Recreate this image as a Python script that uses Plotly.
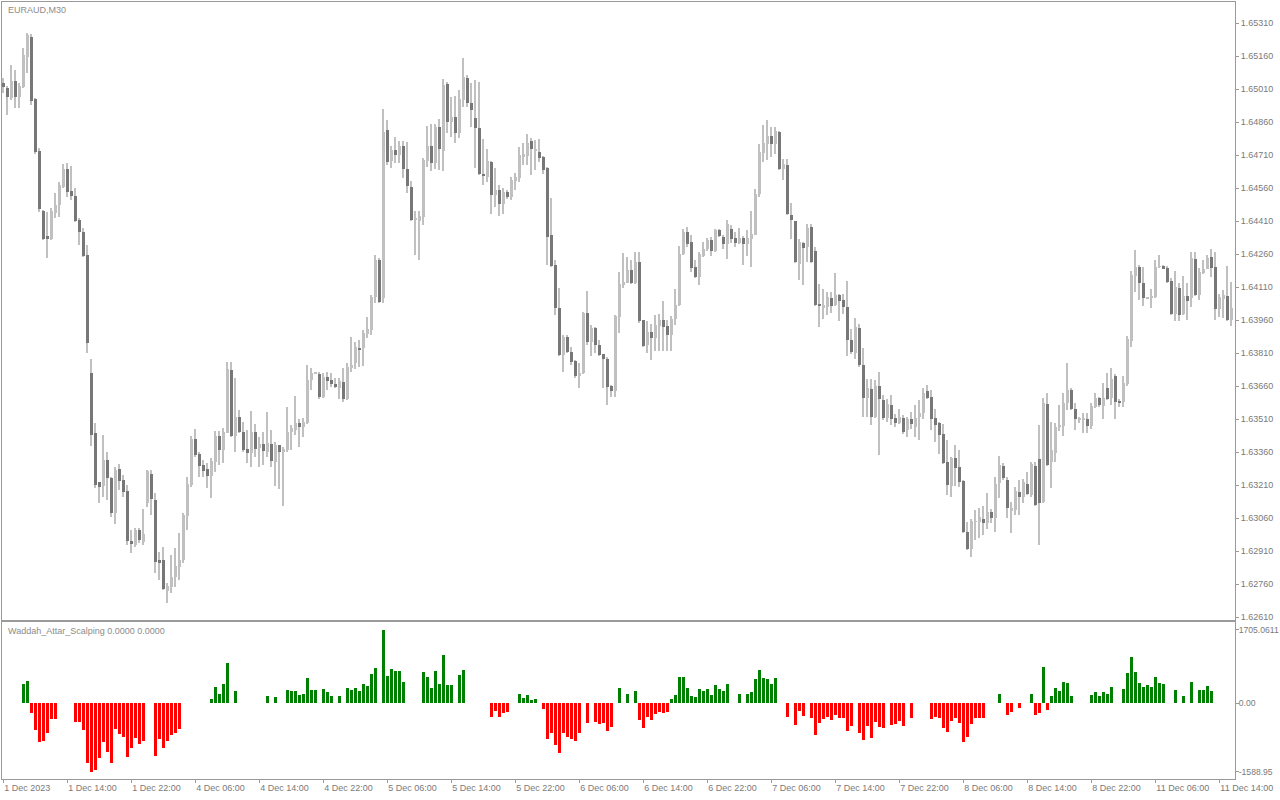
import plotly.graph_objects as go

# ---------------- data (EURAUD, M30) ----------------
bar_open = [
    1.65037, 1.65015, 1.64969, 1.65046, 1.64974, 1.65019, 1.65155, 1.65246, 1.64965, 1.64728,  # 0
    1.64455, 1.64342, 1.64328, 1.64446, 1.64483, 1.64565, 1.64646, 1.64546, 1.64524, 1.64415,  # 10
    1.64360, 1.64255, 1.63719, 1.63446, 1.63224, 1.63205, 1.63324, 1.63242, 1.63083, 1.63283,  # 20
    1.63233, 1.63183, 1.62955, 1.62937, 1.63005, 1.62951, 1.63128, 1.63260, 1.63142, 1.62869,  # 30
    1.62869, 1.62728, 1.62746, 1.62792, 1.62837, 1.62869, 1.63069, 1.63210, 1.63419, 1.63351,  # 40
    1.63301, 1.63283, 1.63251, 1.63315, 1.63433, 1.63369, 1.63446, 1.63733, 1.63433, 1.63519,  # 50
    1.63451, 1.63374, 1.63355, 1.63451, 1.63378, 1.63396, 1.63360, 1.63396, 1.63315, 1.63392,  # 60
    1.63360, 1.63369, 1.63451, 1.63460, 1.63492, 1.63474, 1.63492, 1.63687, 1.63719, 1.63715,  # 70
    1.63610, 1.63701, 1.63687, 1.63669, 1.63651, 1.63678, 1.63601, 1.63742, 1.63765, 1.63833,  # 80
    1.63833, 1.63896, 1.63915, 1.64065, 1.64233, 1.64060, 1.64824, 1.64683, 1.64733, 1.64710,  # 90
    1.64751, 1.64646, 1.64565, 1.64415, 1.64410, 1.64428, 1.64683, 1.64751, 1.64674, 1.64837,  # 100
    1.64728, 1.65033, 1.64860, 1.64883, 1.64810, 1.64960, 1.65060, 1.64946, 1.64878, 1.64833,  # 110
    1.64624, 1.64610, 1.64678, 1.64528, 1.64551, 1.64487, 1.64542, 1.64519, 1.64592, 1.64605,  # 120
    1.64701, 1.64705, 1.64774, 1.64731, 1.64724, 1.64701, 1.64651, 1.64346, 1.64210, 1.64015,  # 130
    1.63801, 1.63883, 1.63815, 1.63774, 1.63705, 1.63719, 1.63992, 1.63860, 1.63924, 1.63846,  # 140
    1.63805, 1.63783, 1.63660, 1.63637, 1.63974, 1.64119, 1.64128, 1.64187, 1.64128, 1.64224,  # 150
    1.63960, 1.63846, 1.63905, 1.63878, 1.63933, 1.63960, 1.63933, 1.63892, 1.63965, 1.64028,  # 160
    1.64260, 1.64360, 1.64315, 1.64201, 1.64155, 1.64251, 1.64283, 1.64324, 1.64274, 1.64369,  # 170
    1.64337, 1.64305, 1.64374, 1.64333, 1.64310, 1.64333, 1.64305, 1.64328, 1.64346, 1.64533,  # 180
    1.64719, 1.64760, 1.64796, 1.64760, 1.64815, 1.64646, 1.64665, 1.64437, 1.64410, 1.64215,  # 190
    1.64310, 1.64292, 1.64383, 1.64274, 1.64028, 1.64019, 1.64019, 1.64060, 1.64028, 1.64074,  # 200
    1.64051, 1.64019, 1.63869, 1.63810, 1.63924, 1.63755, 1.63605, 1.63646, 1.63519, 1.63660,  # 210
    1.63596, 1.63515, 1.63574, 1.63515, 1.63492, 1.63515, 1.63460, 1.63510, 1.63474, 1.63519,  # 220
    1.63537, 1.63637, 1.63610, 1.63515, 1.63492, 1.63442, 1.63315, 1.63205, 1.63333, 1.63292,  # 230
    1.63228, 1.62996, 1.62919, 1.63042, 1.63042, 1.63055, 1.63037, 1.63087, 1.63060, 1.63219,  # 240
    1.63296, 1.63233, 1.63096, 1.63096, 1.63178, 1.63155, 1.63215, 1.63165, 1.63296, 1.63328,  # 250
    1.63133, 1.63578, 1.63315, 1.63355, 1.63474, 1.63478, 1.63583, 1.63642, 1.63555, 1.63510,  # 260
    1.63505, 1.63510, 1.63478, 1.63565, 1.63605, 1.63569, 1.63651, 1.63605, 1.63705, 1.63592,  # 270
    1.63587, 1.63669, 1.63865, 1.64160, 1.64201, 1.64128, 1.64060, 1.64063, 1.64065, 1.64201,  # 280
    1.64205, 1.64196, 1.64137, 1.63987, 1.64105, 1.63987, 1.64069, 1.64060, 1.64237, 1.64074,  # 290
    1.64174, 1.64192, 1.64246, 1.64201, 1.64010, 1.64055, 1.64069, 1.63960,                    # 300
]
bar_high = [
    1.65060, 1.65024, 1.65119, 1.65096, 1.65037, 1.65196, 1.65265, 1.65260, 1.64969, 1.64742,
    1.64460, 1.64451, 1.64469, 1.64537, 1.64587, 1.64669, 1.64674, 1.64660, 1.64560, 1.64424,
    1.64378, 1.64301, 1.63783, 1.63492, 1.63224, 1.63437, 1.63360, 1.63246, 1.63292, 1.63305,
    1.63255, 1.63210, 1.63005, 1.63015, 1.63015, 1.63101, 1.63278, 1.63278, 1.63174, 1.62905,
    1.62928, 1.62765, 1.62892, 1.62924, 1.62992, 1.63083, 1.63246, 1.63433, 1.63465, 1.63360,
    1.63324, 1.63310, 1.63333, 1.63455, 1.63455, 1.63469, 1.63769, 1.63769, 1.63696, 1.63551,
    1.63496, 1.63460, 1.63546, 1.63487, 1.63428, 1.63451, 1.63542, 1.63460, 1.63405, 1.63392,
    1.63383, 1.63565, 1.63483, 1.63615, 1.63510, 1.63515, 1.63755, 1.63742, 1.63724, 1.63724,
    1.63719, 1.63724, 1.63719, 1.63696, 1.63696, 1.63742, 1.63765, 1.63883, 1.63860, 1.63869,
    1.63915, 1.63974, 1.64074, 1.64255, 1.64242, 1.64919, 1.64869, 1.64751, 1.64792, 1.64774,
    1.64774, 1.64769, 1.64592, 1.64455, 1.64455, 1.64696, 1.64842, 1.64851, 1.64851, 1.64874,
    1.65055, 1.65042, 1.64974, 1.64978, 1.65005, 1.65151, 1.65074, 1.65037, 1.65051, 1.65042,
    1.64783, 1.64737, 1.64683, 1.64651, 1.64574, 1.64560, 1.64551, 1.64610, 1.64628, 1.64746,
    1.64765, 1.64805, 1.64787, 1.64778, 1.64783, 1.64705, 1.64655, 1.64515, 1.64233, 1.64105,
    1.63892, 1.63892, 1.63837, 1.63778, 1.63765, 1.63996, 1.64092, 1.63937, 1.63928, 1.63869,
    1.63805, 1.63792, 1.63665, 1.63983, 1.64178, 1.64265, 1.64246, 1.64233, 1.64269, 1.64269,
    1.63960, 1.63955, 1.63942, 1.63983, 1.63987, 1.64046, 1.63960, 1.63978, 1.64101, 1.64296,
    1.64374, 1.64383, 1.64346, 1.64233, 1.64269, 1.64315, 1.64333, 1.64337, 1.64374, 1.64374,
    1.64346, 1.64415, 1.64392, 1.64360, 1.64378, 1.64342, 1.64369, 1.64455, 1.64555, 1.64760,
    1.64846, 1.64869, 1.64837, 1.64837, 1.64819, 1.64692, 1.64692, 1.64492, 1.64410, 1.64328,
    1.64315, 1.64396, 1.64396, 1.64292, 1.64124, 1.64101, 1.64087, 1.64087, 1.64174, 1.64078,
    1.64078, 1.64137, 1.63919, 1.63969, 1.63942, 1.63833, 1.63692, 1.63692, 1.63687, 1.63724,
    1.63619, 1.63601, 1.63619, 1.63533, 1.63555, 1.63528, 1.63519, 1.63542, 1.63574, 1.63596,
    1.63651, 1.63665, 1.63642, 1.63555, 1.63496, 1.63487, 1.63415, 1.63337, 1.63392, 1.63369,
    1.63233, 1.63042, 1.63055, 1.63096, 1.63105, 1.63115, 1.63174, 1.63101, 1.63246, 1.63342,
    1.63310, 1.63246, 1.63133, 1.63201, 1.63233, 1.63237, 1.63269, 1.63315, 1.63315, 1.63483,
    1.63605, 1.63628, 1.63496, 1.63492, 1.63574, 1.63628, 1.63765, 1.63651, 1.63583, 1.63519,
    1.63537, 1.63537, 1.63583, 1.63628, 1.63610, 1.63674, 1.63719, 1.63742, 1.63715, 1.63601,
    1.63705, 1.63887, 1.64183, 1.64278, 1.64210, 1.64201, 1.64065, 1.64101, 1.64233, 1.64255,
    1.64210, 1.64205, 1.64151, 1.64183, 1.64128, 1.64160, 1.64128, 1.64269, 1.64269, 1.64196,
    1.64233, 1.64255, 1.64283, 1.64269, 1.64078, 1.64096, 1.64205, 1.64133,
]
bar_low = [
    1.64992, 1.64892, 1.64960, 1.64924, 1.64924, 1.65015, 1.65083, 1.64937, 1.64715, 1.64451,
    1.64324, 1.64242, 1.64324, 1.64424, 1.64428, 1.64560, 1.64519, 1.64505, 1.64405, 1.64301,
    1.64246, 1.63810, 1.63387, 1.63196, 1.63128, 1.63155, 1.63142, 1.63065, 1.63033, 1.63187,
    1.63155, 1.62937, 1.62901, 1.62928, 1.62946, 1.62937, 1.63110, 1.63074, 1.62810, 1.62778,
    1.62733, 1.62674, 1.62719, 1.62746, 1.62778, 1.62855, 1.63005, 1.63201, 1.63337, 1.63246,
    1.63246, 1.63196, 1.63151, 1.63269, 1.63301, 1.63310, 1.63446, 1.63428, 1.63360, 1.63446,
    1.63360, 1.63310, 1.63292, 1.63337, 1.63292, 1.63301, 1.63337, 1.63292, 1.63205, 1.63192,
    1.63115, 1.63360, 1.63369, 1.63437, 1.63383, 1.63428, 1.63487, 1.63642, 1.63714, 1.63601,
    1.63605, 1.63642, 1.63655, 1.63651, 1.63601, 1.63587, 1.63596, 1.63724, 1.63737, 1.63746,
    1.63751, 1.63878, 1.63892, 1.64037, 1.64037, 1.64037, 1.64665, 1.64651, 1.64674, 1.64674,
    1.64605, 1.64537, 1.64410, 1.64255, 1.64233, 1.64392, 1.64655, 1.64637, 1.64646, 1.64642,
    1.64637, 1.64810, 1.64792, 1.64765, 1.64787, 1.64928, 1.64928, 1.64837, 1.64651, 1.64619,
    1.64574, 1.64587, 1.64442, 1.64474, 1.64433, 1.64442, 1.64510, 1.64505, 1.64551, 1.64587,
    1.64665, 1.64665, 1.64619, 1.64642, 1.64678, 1.64624, 1.64210, 1.64201, 1.63983, 1.63796,
    1.63724, 1.63810, 1.63755, 1.63696, 1.63651, 1.63715, 1.63846, 1.63796, 1.63810, 1.63796,
    1.63651, 1.63574, 1.63610, 1.63610, 1.63901, 1.64105, 1.64128, 1.64124, 1.64124, 1.63946,
    1.63837, 1.63810, 1.63778, 1.63819, 1.63819, 1.63819, 1.63819, 1.63819, 1.63937, 1.64024,
    1.64255, 1.64292, 1.64178, 1.64151, 1.64119, 1.64246, 1.64274, 1.64251, 1.64269, 1.64337,
    1.64283, 1.64237, 1.64310, 1.64292, 1.64305, 1.64210, 1.64251, 1.64201, 1.64346, 1.64519,
    1.64678, 1.64687, 1.64701, 1.64715, 1.64642, 1.64596, 1.64437, 1.64328, 1.64219, 1.64142,
    1.64119, 1.64224, 1.64219, 1.64024, 1.63928, 1.63965, 1.63983, 1.63992, 1.64024, 1.63955,
    1.63987, 1.63796, 1.63805, 1.63783, 1.63746, 1.63519, 1.63519, 1.63483, 1.63515, 1.63346,
    1.63505, 1.63496, 1.63483, 1.63474, 1.63487, 1.63442, 1.63428, 1.63465, 1.63428, 1.63415,
    1.63510, 1.63601, 1.63460, 1.63405, 1.63351, 1.63305, 1.63165, 1.63155, 1.63205, 1.63201,
    1.62992, 1.62915, 1.62882, 1.62960, 1.62969, 1.62983, 1.63010, 1.63037, 1.62996, 1.63151,
    1.63233, 1.63060, 1.62992, 1.63074, 1.63074, 1.63128, 1.63165, 1.63155, 1.63115, 1.62937,
    1.63128, 1.63296, 1.63196, 1.63315, 1.63455, 1.63433, 1.63551, 1.63551, 1.63460, 1.63492,
    1.63446, 1.63446, 1.63465, 1.63560, 1.63565, 1.63510, 1.63596, 1.63574, 1.63510, 1.63565,
    1.63565, 1.63660, 1.63837, 1.64087, 1.64051, 1.64024, 1.64055, 1.64015, 1.64060, 1.64196,
    1.64192, 1.64128, 1.63983, 1.63955, 1.63955, 1.63983, 1.63960, 1.64019, 1.64069, 1.64051,
    1.64169, 1.64190, 1.64155, 1.63960, 1.63974, 1.63969, 1.63955, 1.63933,
]
bar_close = [
    1.65019, 1.64974, 1.65046, 1.64974, 1.65024, 1.65165, 1.65255, 1.64955, 1.64724, 1.64465,
    1.64328, 1.64328, 1.64455, 1.64483, 1.64574, 1.64646, 1.64542, 1.64524, 1.64410, 1.64360,
    1.64251, 1.63855, 1.63437, 1.63210, 1.63201, 1.63324, 1.63242, 1.63083, 1.63278, 1.63228,
    1.63178, 1.62955, 1.62942, 1.63005, 1.62960, 1.62987, 1.63274, 1.63146, 1.62860, 1.62860,
    1.62737, 1.62751, 1.62792, 1.62842, 1.62869, 1.63074, 1.63215, 1.63419, 1.63346, 1.63296,
    1.63274, 1.63251, 1.63319, 1.63433, 1.63369, 1.63451, 1.63737, 1.63433, 1.63519, 1.63451,
    1.63369, 1.63355, 1.63451, 1.63374, 1.63396, 1.63365, 1.63401, 1.63319, 1.63392, 1.63360,
    1.63374, 1.63451, 1.63469, 1.63492, 1.63474, 1.63496, 1.63687, 1.63719, 1.63720, 1.63610,
    1.63701, 1.63683, 1.63669, 1.63655, 1.63683, 1.63601, 1.63746, 1.63755, 1.63837, 1.63828,
    1.63901, 1.63919, 1.64065, 1.64233, 1.64042, 1.64815, 1.64678, 1.64733, 1.64710, 1.64751,
    1.64646, 1.64569, 1.64415, 1.64424, 1.64433, 1.64687, 1.64751, 1.64674, 1.64837, 1.64737,
    1.65028, 1.64860, 1.64883, 1.64810, 1.64965, 1.65065, 1.64946, 1.64915, 1.64833, 1.64624,
    1.64615, 1.64683, 1.64528, 1.64551, 1.64487, 1.64542, 1.64519, 1.64596, 1.64610, 1.64710,
    1.64715, 1.64765, 1.64737, 1.64733, 1.64696, 1.64642, 1.64337, 1.64205, 1.64015, 1.63801,
    1.63883, 1.63815, 1.63769, 1.63705, 1.63719, 1.63992, 1.63860, 1.63924, 1.63846, 1.63801,
    1.63783, 1.63655, 1.63637, 1.63978, 1.64124, 1.64133, 1.64187, 1.64128, 1.64224, 1.63955,
    1.63842, 1.63905, 1.63878, 1.63937, 1.63960, 1.63928, 1.63892, 1.63965, 1.64028, 1.64260,
    1.64360, 1.64305, 1.64196, 1.64155, 1.64260, 1.64283, 1.64324, 1.64274, 1.64369, 1.64342,
    1.64305, 1.64396, 1.64328, 1.64310, 1.64333, 1.64305, 1.64333, 1.64351, 1.64533, 1.64724,
    1.64765, 1.64796, 1.64760, 1.64819, 1.64646, 1.64669, 1.64442, 1.64415, 1.64224, 1.64315,
    1.64287, 1.64378, 1.64224, 1.64028, 1.64026, 1.64028, 1.64065, 1.64024, 1.64074, 1.64046,
    1.64019, 1.63869, 1.63815, 1.63928, 1.63755, 1.63605, 1.63651, 1.63519, 1.63660, 1.63601,
    1.63515, 1.63578, 1.63510, 1.63492, 1.63519, 1.63451, 1.63510, 1.63487, 1.63515, 1.63537,
    1.63628, 1.63605, 1.63510, 1.63483, 1.63437, 1.63310, 1.63210, 1.63333, 1.63287, 1.63224,
    1.62996, 1.62919, 1.63046, 1.63044, 1.63065, 1.63037, 1.63087, 1.63060, 1.63215, 1.63301,
    1.63242, 1.63105, 1.63105, 1.63183, 1.63155, 1.63224, 1.63169, 1.63305, 1.63119, 1.63128,
    1.63583, 1.63301, 1.63369, 1.63474, 1.63483, 1.63583, 1.63642, 1.63555, 1.63510, 1.63512,
    1.63515, 1.63478, 1.63569, 1.63605, 1.63574, 1.63605, 1.63601, 1.63692, 1.63587, 1.63583,
    1.63674, 1.63874, 1.64165, 1.64201, 1.64128, 1.64060, 1.64062, 1.64065, 1.64201, 1.64205,
    1.64196, 1.64133, 1.63987, 1.64110, 1.63983, 1.64069, 1.64046, 1.64242, 1.64074, 1.64178,
    1.64192, 1.64242, 1.64196, 1.64010, 1.64065, 1.64074, 1.63960, 1.64015,
]

# Waddah_Attar_Scalping histogram (0 = no bar drawn)
wa_values = [
    0, 0, 0, 0, 0, 461, 530, -230, -622, -892,
    -868, -684, -361, -361, 0, 0, 0, 0, -430, -430,
    -614, -1383, -1588.95, -1545, -1260, -899, -1122, -1375, -591, -707,
    -776, -1237, -1030, -799, -937, -868, 0, 0, -1214, -822,
    -1030, -868, -730, -684, -591, 0, 0, 0, 0, 0,
    0, 0, 92, 392, 230, 461, 945, 0, 300, 0,
    0, 0, 0, 0, 0, 0, 161, 0, 138, 0,
    0, 323, 284, 300, 207, 230, 599, 323, 307, 0,
    346, 254, 184, 0, 184, 0, 369, 323, 369, 300,
    461, 415, 691, 830, 0, 1705.0611, 645, 807, 745, 760,
    507, 0, 0, 0, 0, 737, 622, 369, 760, 461,
    1129, 438, 438, 0, 668, 784, 0, 0, 0, 0,
    0, 0, -323, -184, -323, -230, -207, 0, 0, 230,
    115, 207, 69, 92, 0, -138, -830, -691, -968, -1152,
    -691, -783, -830, -876, -691, 0, -461, 0, -438, -484,
    -461, -645, -553, 0, 369, 0, 230, 0, 277, -392,
    -576, -323, -392, -254, -207, -230, -207, 92, 207, 622,
    622, 369, 161, 138, 346, 300, 346, 207, 438, 346,
    277, 461, 0, 0, 230, 0, 230, 254, 576, 784,
    599, 576, 461, 599, 0, 0, -323, 0, -507, -184,
    -300, 0, -346, -737, -461, -369, -323, -392, -270, -330,
    -330, -638, -522, 0, -691, -845, -522, -799, -430, -545,
    -568, 0, -499, -476, -407, -522, 0, -338, 0, 0,
    0, 0, -361, -315, -338, -568, -660, -407, -338, -453,
    -891, -776, -476, -338, -338, -338, 0, 0, 0, 230,
    0, -270, -200, 0, -108, 0, 0, 230, -270, -223,
    853, -154, 161, 369, 300, 507, 484, 161, 0, 0,
    0, 0, 207, 254, 184, 254, 230, 392, 0, 0,
    346, 714, 1083, 737, 484, 392, 438, 392, 622, 484,
    461, 0, 0, 323, 0, 184, 0, 507, 0, 323,
    323, 415, 277, 0, 0, 0, 0, 0,
]

time_labels = [
    "1 Dec 2023", "1 Dec 14:00", "1 Dec 22:00", "4 Dec 06:00", "4 Dec 14:00",
    "4 Dec 22:00", "5 Dec 06:00", "5 Dec 14:00", "5 Dec 22:00", "6 Dec 06:00",
    "6 Dec 14:00", "6 Dec 22:00", "7 Dec 06:00", "7 Dec 14:00", "7 Dec 22:00",
    "8 Dec 06:00", "8 Dec 14:00", "8 Dec 22:00", "11 Dec 06:00", "11 Dec 14:00",
]
bars_per_label = 16  # 8 hours of M30 bars

price_ticks = [
    1.62610, 1.62760, 1.62910, 1.63060, 1.63210, 1.63360, 1.63510, 1.63660, 1.63810,
    1.63960, 1.64110, 1.64260, 1.64410, 1.64560, 1.64710, 1.64860, 1.65010, 1.65160, 1.65310,
]
wa_ticks = [1705.0611, 0.0, -1588.95]
wa_tick_text = ["1705.0611", "0.00", "-1588.95"]

symbol_title = "EURAUD,M30"
indicator_title = "Waddah_Attar_Scalping 0.0000 0.0000"

n = len(bar_open)
for arr in (bar_high, bar_low, bar_close, wa_values):
    if len(arr) != n:
        raise SystemExit(f"length mismatch {len(arr)} vs {n}")

# ---------------- styling ----------------
BULL = "#c0c0c0"
BEAR = "#777777"
WICK = "#c0c0c0"
GREEN = "#008000"
RED = "#ff0000"
AXIS = "#9a9a9a"
TXT = "#7a7a7a"
FONT = "Liberation Sans, Arial, sans-serif"

idx = list(range(n))
body_base = [min(o, c) for o, c in zip(bar_open, bar_close)]
body_h = [max(abs(c - o), 0.00004) for o, c in zip(bar_open, bar_close)]
body_col = [BULL if c >= o else BEAR for o, c in zip(bar_open, bar_close)]
wick_h = [h - l for h, l in zip(bar_high, bar_low)]

fig = go.Figure()
fig.add_trace(go.Bar(x=idx, y=wick_h, base=bar_low, width=0.25,
                     marker=dict(color=WICK, line=dict(width=0)),
                     xaxis="x", yaxis="y", hoverinfo="skip"))
fig.add_trace(go.Bar(x=idx, y=body_h, base=body_base, width=0.75,
                     marker=dict(color=body_col, line=dict(width=0)),
                     xaxis="x", yaxis="y", hoverinfo="skip"))
fig.add_trace(go.Bar(x=idx, y=wa_values, width=0.75,
                     marker=dict(color=[GREEN if v >= 0 else RED for v in wa_values],
                                 line=dict(width=0)),
                     xaxis="x2", yaxis="y2", hoverinfo="skip"))

W, H = 1280, 800
ml, mr, mt, mb = 2, 45, 2, 21
plot_w = W - ml - mr
plot_h = H - mt - mb
main_bottom_px = 620
ind_top_px = 622
bottom_px = H - mb

px_per_bar = 4.0
x_left = -0.325
x_range = [x_left, x_left + plot_w / px_per_bar]

common_axis = dict(showgrid=False, zeroline=False, showline=True, linecolor=AXIS,
                   linewidth=1, mirror=True, automargin=False)

fig.update_layout(
    width=W, height=H, template="none",
    margin=dict(l=ml, r=mr, t=mt, b=mb, pad=0),
    paper_bgcolor="white", plot_bgcolor="white",
    showlegend=False, barmode="overlay", bargap=0,
    font=dict(family=FONT, size=9, color=TXT),
    xaxis=dict(domain=[0, 1], anchor="y", range=x_range, showticklabels=False,
               ticks="", **common_axis),
    xaxis2=dict(domain=[0, 1], anchor="y2", range=x_range, matches="x",
                tickmode="array",
                tickvals=[bars_per_label * k for k in range(len(time_labels))],
                ticktext=time_labels, ticks="outside", ticklen=3, tickcolor=AXIS,
                ticklabelposition="outside right",
                tickfont=dict(family=FONT, size=9, color=TXT), **common_axis),
    yaxis=dict(domain=[(bottom_px - main_bottom_px) / plot_h, 1], anchor="x", side="right",
               range=[1.625964, 1.654055], tickmode="array", tickvals=price_ticks,
               ticktext=[f"{v:.5f}" for v in price_ticks], ticks="outside", ticklen=3,
               tickcolor=AXIS, tickfont=dict(family=FONT, size=9, color=TXT), **common_axis),
    yaxis2=dict(domain=[0, (bottom_px - ind_top_px) / plot_h], anchor="x2", side="right",
                range=[-1753, 1889], tickmode="array", tickvals=wa_ticks,
                ticktext=wa_tick_text, ticks="outside", ticklen=3, tickcolor=AXIS,
                ticklabelstandoff=-2,
                tickfont=dict(family=FONT, size=8.6, color=TXT), **common_axis),
)

def paper_xy(px, py):
    return (px - ml) / plot_w, (bottom_px - py) / plot_h

ax, ay = paper_xy(6, 10)
fig.add_annotation(x=ax, y=ay, xref="paper", yref="paper", text=symbol_title,
                   showarrow=False, xanchor="left", yanchor="middle",
                   font=dict(family=FONT, size=9, color="#8c8c8c"))
ax, ay = paper_xy(6, 631)
fig.add_annotation(x=ax, y=ay, xref="paper", yref="paper", text=indicator_title,
                   showarrow=False, xanchor="left", yanchor="middle",
                   font=dict(family=FONT, size=9, color="#8c8c8c"))

fig.write_html("out.html",
               config={"displayModeBar": False},
               post_script="document.body.style.margin='0';document.body.style.overflow='hidden';")
